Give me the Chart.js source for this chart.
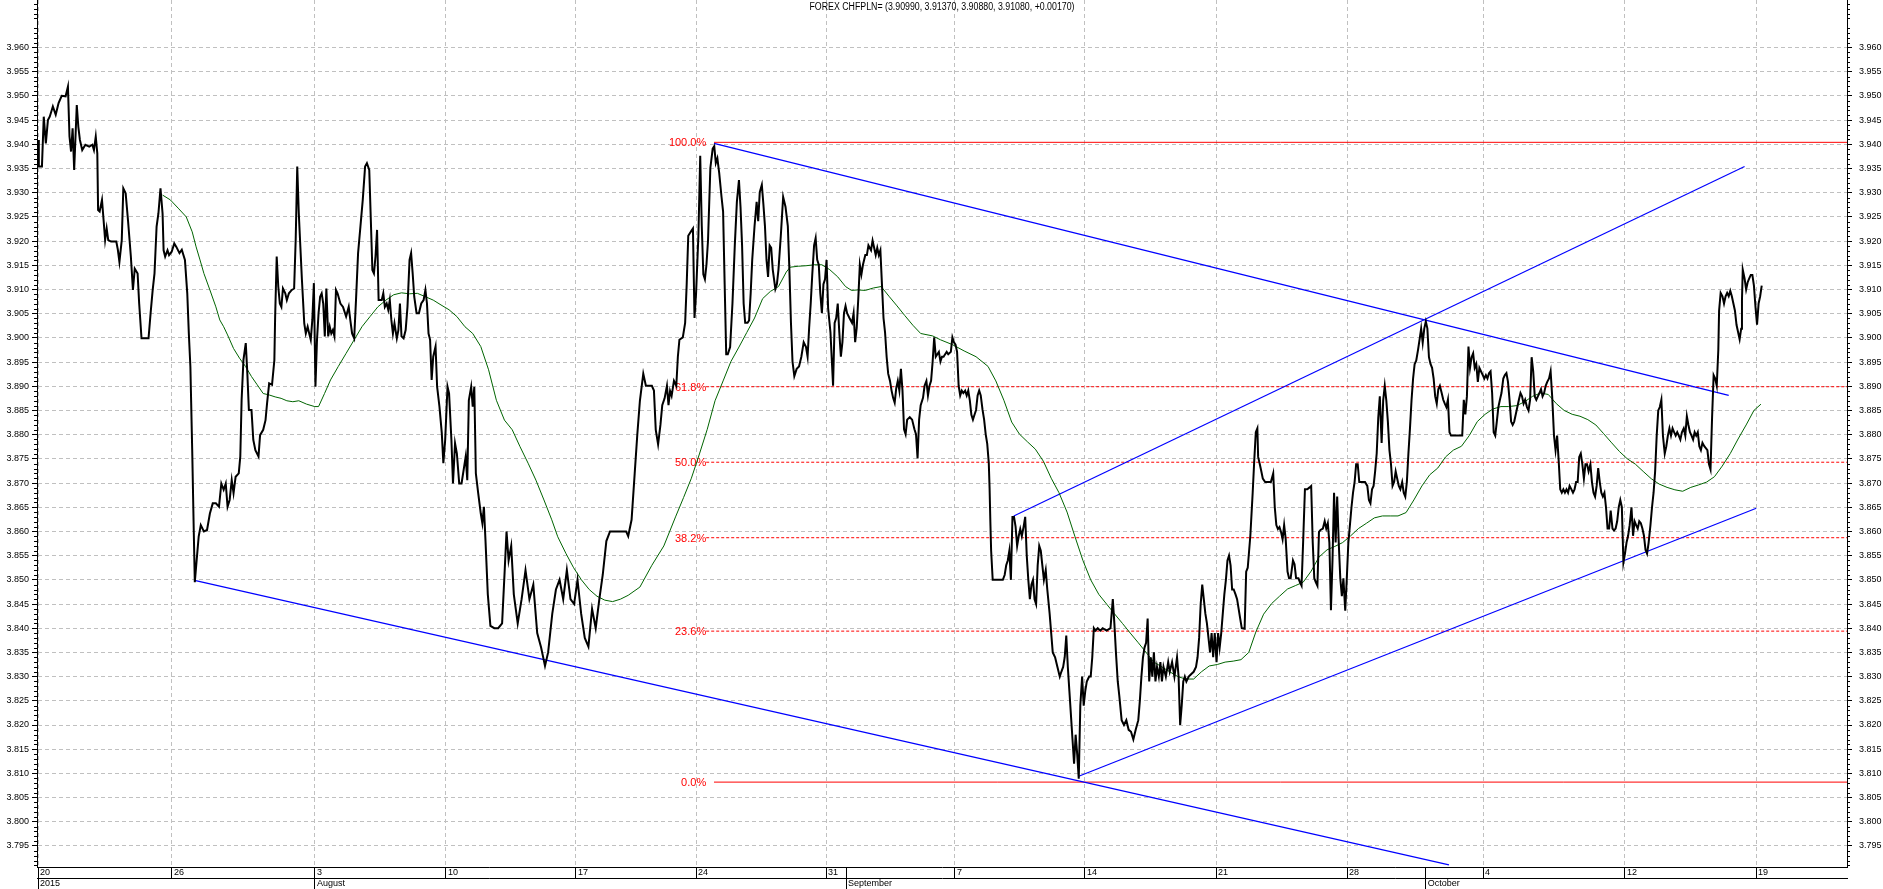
<!DOCTYPE html>
<html lang="en">
<head>
<meta charset="UTF-8">
<title>FOREX CHFPLN=</title>
<script src="https://cdn.jsdelivr.net/npm/chart.js"></script>
<style>
    html, body { margin: 0; padding: 0; background: #fff; overflow: hidden; }
    canvas { display: block; }
</style>
</head>
<body>
<canvas id="chart" width="1883" height="889"></canvas>
<script>
// x values are trading days counted from Mon 20 Jul 2015
const price = [
 [0.00,3.9409],[0.03,3.9354],[0.15,3.9354],[0.22,3.9457],[0.30,3.9402],[0.38,3.9450],[0.45,3.9457],[0.57,3.9478],
 [0.68,3.9461],[0.79,3.9485],[0.91,3.9500],[1.06,3.9499],[1.15,3.9519],[1.21,3.9416],[1.27,3.9385],[1.33,3.9433],
 [1.39,3.9347],[1.49,3.9481],[1.55,3.9436],[1.61,3.9409],[1.70,3.9388],[1.82,3.9399],[1.97,3.9395],[2.09,3.9399],
 [2.15,3.9388],[2.22,3.9416],[2.28,3.9381],[2.31,3.9264],[2.37,3.9261],[2.46,3.9285],[2.52,3.9244],[2.58,3.9202],
 [2.64,3.9226],[2.70,3.9202],[2.81,3.9199],[3.01,3.9199],[3.07,3.9182],[3.13,3.9157],[3.22,3.9202],[3.28,3.9309],
 [3.37,3.9299],[3.46,3.9243],[3.57,3.9168],[3.65,3.9099],[3.72,3.9143],[3.83,3.9133],[3.89,3.9071],[3.98,3.8999],
 [4.25,3.8999],[4.33,3.9051],[4.41,3.9099],[4.48,3.9133],[4.56,3.9230],[4.63,3.9257],[4.71,3.9309],[4.79,3.9257],
 [4.83,3.9181],[4.89,3.9168],[4.98,3.9181],[5.04,3.9171],[5.14,3.9178],[5.24,3.9195],[5.32,3.9188],[5.44,3.9175],
 [5.53,3.9182],[5.65,3.9161],[5.74,3.9092],[5.80,3.9009],[5.86,3.8940],[5.93,3.8768],[5.99,3.8600],[6.03,3.8495],
 [6.10,3.8540],[6.18,3.8590],[6.26,3.8613],[6.38,3.8600],[6.50,3.8603],[6.61,3.8637],[6.72,3.8658],[6.84,3.8658],
 [6.96,3.8651],[7.05,3.8699],[7.14,3.8686],[7.22,3.8699],[7.29,3.8651],[7.37,3.8665],[7.45,3.8706],[7.52,3.8679],
 [7.60,3.8713],[7.72,3.8720],[7.78,3.8755],[7.83,3.8871],[7.90,3.8954],[7.99,3.8989],[8.05,3.8927],[8.11,3.8851],
 [8.21,3.8851],[8.28,3.8789],[8.36,3.8768],[8.48,3.8755],[8.54,3.8799],[8.66,3.8810],[8.75,3.8830],[8.81,3.8865],
 [8.89,3.8906],[9.00,3.8903],[9.09,3.8954],[9.12,3.9044],[9.18,3.9168],[9.24,3.9106],[9.30,3.9071],[9.36,3.9064],
 [9.42,3.9102],[9.51,3.9092],[9.57,3.9078],[9.65,3.9092],[9.76,3.9099],[9.85,3.9102],[9.91,3.9202],[9.97,3.9354],
 [10.03,3.9257],[10.09,3.9188],[10.15,3.9120],[10.24,3.9030],[10.30,3.9009],[10.37,3.9023],[10.43,3.9009],[10.49,3.8996],
 [10.55,3.9037],[10.61,3.9113],[10.67,3.8899],[10.73,3.8996],[10.79,3.9051],[10.85,3.9085],[10.91,3.9092],[10.97,3.9071],
 [11.03,3.9003],[11.09,3.9102],[11.16,3.9003],[11.22,3.9023],[11.28,3.9009],[11.34,3.9016],[11.40,3.9003],[11.46,3.9099],
 [11.52,3.9092],[11.63,3.9071],[11.73,3.9064],[11.85,3.9044],[11.95,3.9064],[12.01,3.9037],[12.08,3.9009],[12.16,3.8999],
 [12.23,3.9078],[12.31,3.9175],[12.40,3.9230],[12.49,3.9285],[12.58,3.9354],[12.65,3.9361],[12.74,3.9347],[12.80,3.9244],
 [12.86,3.9140],[12.92,3.9133],[12.98,3.9168],[13.04,3.9223],[13.10,3.9078],[13.22,3.9078],[13.28,3.9092],[13.34,3.9064],
 [13.41,3.9071],[13.47,3.9058],[13.53,3.9078],[13.59,3.9037],[13.65,3.9009],[13.71,3.9030],[13.80,3.8999],[13.86,3.9016],
 [13.92,3.9071],[13.98,3.9003],[14.06,3.8999],[14.14,3.9016],[14.21,3.9064],[14.29,3.9161],[14.35,3.9175],[14.41,3.9133],
 [14.47,3.9085],[14.56,3.9051],[14.65,3.9051],[14.74,3.9071],[14.83,3.9078],[14.90,3.9099],[14.96,3.9071],[15.02,3.9009],
 [15.08,3.8996],[15.14,3.8913],[15.20,3.8961],[15.29,3.8982],[15.35,3.8899],[15.44,3.8858],[15.53,3.8803],[15.59,3.8741],
 [15.66,3.8789],[15.75,3.8899],[15.81,3.8885],[15.90,3.8789],[15.96,3.8699],[16.04,3.8782],[16.11,3.8761],[16.20,3.8699],
 [16.29,3.8699],[16.39,3.8734],[16.45,3.8755],[16.51,3.8706],[16.57,3.8871],[16.66,3.8899],[16.72,3.8858],[16.78,3.8899],
 [16.84,3.8720],[16.93,3.8679],[17.03,3.8637],[17.09,3.8617],[17.15,3.8651],[17.21,3.8582],[17.30,3.8470],[17.40,3.8405],
 [17.55,3.8400],[17.70,3.8400],[17.85,3.8410],[17.95,3.8520],[18.02,3.8600],[18.10,3.8540],[18.20,3.8570],[18.30,3.8470],
 [18.45,3.8410],[18.60,3.8460],[18.75,3.8520],[18.90,3.8460],[19.05,3.8490],[19.20,3.8390],[19.35,3.8360],[19.50,3.8322],
 [19.62,3.8350],[19.78,3.8430],[19.92,3.8480],[20.06,3.8500],[20.20,3.8460],[20.34,3.8520],[20.48,3.8460],[20.62,3.8450],
 [20.75,3.8500],[20.89,3.8430],[21.03,3.8380],[21.17,3.8362],[21.31,3.8440],[21.45,3.8400],[21.59,3.8460],[21.72,3.8510],
 [21.86,3.8580],[22.00,3.8600],[22.12,3.8600],[22.62,3.8600],[22.70,3.8590],[22.83,3.8624],[22.95,3.8720],[23.05,3.8800],
 [23.15,3.8870],[23.28,3.8926],[23.38,3.8901],[23.61,3.8901],[23.69,3.8891],[23.76,3.8810],[23.85,3.8780],[23.94,3.8820],
 [24.01,3.8861],[24.10,3.8875],[24.19,3.8901],[24.25,3.8861],[24.31,3.8890],[24.37,3.8880],[24.46,3.8911],[24.55,3.8901],
 [24.61,3.8961],[24.67,3.8996],[24.80,3.9001],[24.89,3.9031],[24.95,3.9111],[25.01,3.9211],[25.07,3.9216],[25.13,3.9221],
 [25.19,3.9226],[25.25,3.9041],[25.31,3.9091],[25.40,3.9211],[25.47,3.9376],[25.53,3.9231],[25.59,3.9131],[25.65,3.9121],
 [25.71,3.9151],[25.77,3.9201],[25.86,3.9351],[25.95,3.9391],[26.01,3.9396],[26.07,3.9361],[26.13,3.9371],[26.20,3.9341],
 [26.29,3.9291],[26.35,3.9261],[26.41,3.9111],[26.47,3.8966],[26.53,3.8966],[26.62,3.8981],[26.71,3.9071],[26.80,3.9191],
 [26.88,3.9281],[26.96,3.9326],[27.02,3.9271],[27.08,3.9191],[27.14,3.9071],[27.20,3.9031],[27.29,3.9031],[27.35,3.9036],
 [27.41,3.9091],[27.47,3.9161],[27.56,3.9231],[27.64,3.9281],[27.70,3.9241],[27.76,3.9301],[27.84,3.9316],[27.90,3.9276],
 [27.96,3.9231],[28.02,3.9161],[28.08,3.9126],[28.14,3.9191],[28.20,3.9186],[28.26,3.9141],[28.36,3.9101],[28.42,3.9111],
 [28.48,3.9141],[28.57,3.9211],[28.66,3.9291],[28.75,3.9271],[28.84,3.9231],[28.90,3.9141],[28.96,3.9031],[29.02,3.8951],
 [29.09,3.8921],[29.18,3.8936],[29.27,3.8941],[29.36,3.8961],[29.45,3.8991],[29.54,3.8981],[29.60,3.8961],[29.66,3.9021],
 [29.72,3.9071],[29.78,3.9131],[29.85,3.9191],[29.91,3.9206],[29.97,3.9161],[30.03,3.9151],[30.09,3.9091],[30.15,3.9051],
 [30.21,3.9111],[30.27,3.9121],[30.33,3.9161],[30.39,3.9061],[30.48,3.9011],[30.58,3.8901],[30.64,3.9031],[30.70,3.9041],
 [30.76,3.9071],[30.82,3.9011],[30.88,3.8961],[30.94,3.8991],[31.00,3.9051],[31.06,3.9066],[31.12,3.9051],[31.21,3.9041],
 [31.31,3.9031],[31.37,3.9051],[31.43,3.8991],[31.49,3.9021],[31.55,3.9081],[31.61,3.9151],[31.67,3.9131],[31.73,3.9151],
 [31.82,3.9171],[31.88,3.9171],[31.94,3.9191],[32.04,3.9181],[32.10,3.9201],[32.16,3.9186],[32.22,3.9171],[32.28,3.9186],
 [32.34,3.9171],[32.40,3.9181],[32.46,3.9111],[32.52,3.9041],[32.58,3.9011],[32.64,3.8961],[32.70,3.8926],[32.77,3.8911],
 [32.83,3.8891],[32.89,3.8876],[32.95,3.8866],[33.01,3.8896],[33.07,3.8911],[33.13,3.8891],[33.19,3.8936],[33.25,3.8891],
 [33.31,3.8811],[33.37,3.8801],[33.43,3.8831],[33.53,3.8836],[33.62,3.8831],[33.71,3.8811],[33.77,3.8801],[33.83,3.8751],
 [33.89,3.8831],[33.95,3.8861],[34.04,3.8876],[34.10,3.8901],[34.17,3.8911],[34.23,3.8881],[34.29,3.8901],[34.35,3.8911],
 [34.41,3.8951],[34.47,3.9001],[34.53,3.8961],[34.59,3.8966],[34.65,3.8971],[34.71,3.8951],[34.77,3.8961],[34.83,3.8961],
 [34.89,3.8966],[34.95,3.8971],[35.01,3.8966],[35.11,3.8971],[35.17,3.9001],[35.23,3.8991],[35.29,3.8986],[35.35,3.8971],
 [35.41,3.8901],[35.47,3.8881],[35.53,3.8891],[35.59,3.8886],[35.66,3.8891],[35.72,3.8881],[35.78,3.8891],[35.84,3.8871],
 [35.90,3.8841],[35.96,3.8831],[36.02,3.8841],[36.08,3.8851],[36.14,3.8881],[36.20,3.8891],[36.26,3.8881],[36.33,3.8851],
 [36.39,3.8831],[36.45,3.8801],[36.51,3.8781],[36.57,3.8741],[36.60,3.8690],[36.63,3.8620],[36.66,3.8560],[36.72,3.8500],
 [36.78,3.8500],[36.90,3.8500],[37.02,3.8500],[37.11,3.8500],[37.18,3.8510],[37.24,3.8530],[37.30,3.8540],[37.36,3.8560],
 [37.42,3.8500],[37.48,3.8630],[37.54,3.8630],[37.60,3.8610],[37.66,3.8570],[37.72,3.8590],[37.78,3.8605],[37.84,3.8590],
 [37.91,3.8610],[37.97,3.8630],[38.03,3.8550],[38.09,3.8500],[38.15,3.8460],[38.21,3.8490],[38.27,3.8500],[38.33,3.8460],
 [38.39,3.8450],[38.45,3.8530],[38.51,3.8570],[38.57,3.8560],[38.63,3.8530],[38.69,3.8500],[38.76,3.8520],[38.82,3.8480],
 [38.91,3.8430],[38.97,3.8390],[39.03,3.8350],[39.12,3.8340],[39.21,3.8320],[39.30,3.8300],[39.36,3.8310],[39.43,3.8320],
 [39.49,3.8340],[39.55,3.8385],[39.61,3.8320],[39.67,3.8270],[39.73,3.8220],[39.79,3.8170],[39.85,3.8120],[39.91,3.8180],
 [39.97,3.8140],[40.03,3.8089],[40.09,3.8240],[40.16,3.8300],[40.22,3.8240],[40.28,3.8270],[40.34,3.8290],[40.43,3.8300],
 [40.49,3.8300],[40.55,3.8340],[40.61,3.8400],[40.67,3.8395],[40.76,3.8400],[40.86,3.8395],[40.95,3.8400],[41.10,3.8395],
 [41.25,3.8400],[41.34,3.8460],[41.40,3.8410],[41.46,3.8350],[41.53,3.8290],[41.59,3.8260],[41.68,3.8210],[41.77,3.8200],
 [41.86,3.8210],[41.95,3.8190],[42.04,3.8186],[42.13,3.8170],[42.22,3.8190],[42.32,3.8210],[42.38,3.8250],[42.44,3.8300],
 [42.50,3.8340],[42.56,3.8360],[42.62,3.8370],[42.68,3.8420],[42.74,3.8290],[42.80,3.8340],[42.86,3.8300],[42.92,3.8350],
 [42.98,3.8290],[43.04,3.8320],[43.11,3.8300],[43.17,3.8330],[43.23,3.8290],[43.29,3.8320],[43.38,3.8300],[43.47,3.8330],
 [43.53,3.8310],[43.62,3.8330],[43.71,3.8300],[43.81,3.8340],[43.87,3.8300],[43.93,3.8200],[43.99,3.8240],[44.05,3.8290],
 [44.11,3.8300],[44.17,3.8290],[44.26,3.8300],[44.35,3.8305],[44.45,3.8310],[44.54,3.8320],[44.60,3.8340],[44.66,3.8380],
 [44.72,3.8450],[44.78,3.8490],[44.84,3.8460],[44.90,3.8430],[44.96,3.8410],[45.02,3.8380],[45.08,3.8350],[45.14,3.8390],
 [45.20,3.8340],[45.26,3.8390],[45.33,3.8330],[45.39,3.8390],[45.45,3.8360],[45.51,3.8390],[45.57,3.8430],[45.63,3.8470],
 [45.69,3.8500],[45.75,3.8540],[45.81,3.8550],[45.87,3.8530],[45.93,3.8480],[45.99,3.8480],[46.06,3.8470],[46.12,3.8460],
 [46.18,3.8440],[46.24,3.8420],[46.30,3.8400],[46.41,3.8399],[46.47,3.8517],[46.53,3.8525],[46.63,3.8591],[46.72,3.8680],
 [46.78,3.8746],[46.84,3.8805],[46.90,3.8813],[46.93,3.8754],[46.99,3.8740],[47.05,3.8725],[47.11,3.8709],[47.20,3.8702],
 [47.30,3.8702],[47.42,3.8702],[47.51,3.8720],[47.57,3.8650],[47.63,3.8613],[47.69,3.8605],[47.75,3.8609],[47.81,3.8599],
 [47.87,3.8584],[47.93,3.8613],[47.99,3.8584],[48.06,3.8517],[48.12,3.8503],[48.18,3.8503],[48.27,3.8540],[48.33,3.8532],
 [48.39,3.8503],[48.48,3.8503],[48.54,3.8495],[48.60,3.8488],[48.66,3.8577],[48.73,3.8687],[48.82,3.8687],[48.91,3.8691],
 [48.97,3.8694],[49.03,3.8577],[49.09,3.8503],[49.15,3.8495],[49.21,3.8488],[49.27,3.8599],[49.33,3.8603],[49.42,3.8606],
 [49.49,3.8621],[49.55,3.8606],[49.61,3.8617],[49.67,3.8577],[49.73,3.8437],[49.79,3.8540],[49.85,3.8680],[49.91,3.8577],
 [49.97,3.8672],[50.03,3.8577],[50.09,3.8503],[50.15,3.8466],[50.21,3.8503],[50.28,3.8436],[50.34,3.8503],[50.40,3.8577],
 [50.46,3.8613],[50.52,3.8650],[50.58,3.8680],[50.64,3.8702],[50.70,3.8739],[50.76,3.8739],[50.82,3.8702],[50.91,3.8702],
 [51.04,3.8702],[51.13,3.8694],[51.19,3.8665],[51.25,3.8658],[51.31,3.8687],[51.37,3.8694],[51.43,3.8724],[51.49,3.8761],
 [51.55,3.8835],[51.61,3.8879],[51.68,3.8783],[51.74,3.8871],[51.80,3.8901],[51.86,3.8871],[51.92,3.8827],[51.98,3.8768],
 [52.04,3.8739],[52.10,3.8694],[52.16,3.8702],[52.22,3.8724],[52.28,3.8709],[52.34,3.8694],[52.40,3.8687],[52.47,3.8702],
 [52.53,3.8680],[52.59,3.8672],[52.65,3.8702],[52.71,3.8761],[52.77,3.8813],[52.83,3.8871],[52.89,3.8916],[52.95,3.8946],
 [53.01,3.8953],[53.08,3.8975],[53.14,3.8997],[53.20,3.9019],[53.26,3.8990],[53.32,3.9019],[53.38,3.9034],[53.44,3.9019],
 [53.50,3.8960],[53.56,3.8946],[53.62,3.8938],[53.68,3.8916],[53.74,3.8879],[53.80,3.8864],[53.86,3.8894],[53.92,3.8901],
 [53.99,3.8886],[54.05,3.8872],[54.11,3.8864],[54.17,3.8857],[54.23,3.8872],[54.29,3.8805],[54.35,3.8798],[54.44,3.8798],
 [54.57,3.8798],[54.69,3.8798],[54.78,3.8798],[54.84,3.8872],[54.90,3.8842],[54.96,3.8879],[55.02,3.8982],[55.08,3.8938],
 [55.14,3.8960],[55.20,3.8968],[55.26,3.8938],[55.32,3.8946],[55.38,3.8909],[55.44,3.8938],[55.50,3.8931],[55.57,3.8923],
 [55.63,3.8916],[55.69,3.8923],[55.75,3.8916],[55.81,3.8927],[55.87,3.8931],[55.93,3.8886],[55.99,3.8805],[56.05,3.8798],
 [56.11,3.8827],[56.17,3.8857],[56.23,3.8872],[56.29,3.8886],[56.36,3.8916],[56.42,3.8923],[56.48,3.8927],[56.54,3.8909],
 [56.60,3.8872],[56.66,3.8827],[56.72,3.8820],[56.78,3.8827],[56.84,3.8842],[56.90,3.8857],[56.96,3.8872],[57.02,3.8886],
 [57.08,3.8879],[57.14,3.8864],[57.20,3.8872],[57.27,3.8857],[57.33,3.8850],[57.39,3.8872],[57.45,3.8960],[57.51,3.8931],
 [57.57,3.8879],[57.63,3.8872],[57.69,3.8879],[57.75,3.8886],[57.81,3.8894],[57.87,3.8879],[57.93,3.8886],[57.99,3.8901],
 [58.05,3.8909],[58.12,3.8916],[58.18,3.8931],[58.24,3.8879],[58.31,3.8798],[58.37,3.8768],[58.43,3.8798],[58.49,3.8746],
 [58.55,3.8687],[58.61,3.8680],[58.67,3.8687],[58.73,3.8680],[58.79,3.8687],[58.85,3.8680],[58.91,3.8694],[58.98,3.8687],
 [59.04,3.8680],[59.10,3.8687],[59.16,3.8702],[59.22,3.8702],[59.28,3.8754],[59.34,3.8761],[59.40,3.8739],[59.46,3.8709],
 [59.52,3.8739],[59.58,3.8739],[59.64,3.8724],[59.71,3.8739],[59.77,3.8702],[59.83,3.8680],[59.89,3.8672],[59.95,3.8694],
 [60.01,3.8731],[60.07,3.8702],[60.13,3.8680],[60.19,3.8672],[60.25,3.8680],[60.31,3.8650],[60.37,3.8606],[60.43,3.8606],
 [60.49,3.8643],[60.56,3.8606],[60.62,3.8602],[60.68,3.8606],[60.74,3.8621],[60.80,3.8650],[60.86,3.8665],[60.92,3.8650],
 [60.98,3.8536],[61.04,3.8554],[61.10,3.8577],[61.16,3.8591],[61.22,3.8613],[61.29,3.8650],[61.35,3.8591],[61.41,3.8621],
 [61.47,3.8613],[61.53,3.8606],[61.59,3.8621],[61.65,3.8617],[61.71,3.8606],[61.77,3.8591],[61.83,3.8562],[61.89,3.8554],
 [61.95,3.8577],[62.02,3.8613],[62.08,3.8650],[62.14,3.8680],[62.20,3.8724],[62.26,3.8798],[62.32,3.8850],[62.38,3.8857],
 [62.44,3.8872],[62.50,3.8798],[62.57,3.8761],[62.63,3.8776],[62.69,3.8798],[62.75,3.8813],[62.81,3.8798],[62.87,3.8813],
 [62.93,3.8805],[62.99,3.8798],[63.05,3.8805],[63.11,3.8798],[63.17,3.8790],[63.23,3.8805],[63.30,3.8813],[63.36,3.8798],
 [63.42,3.8838],[63.48,3.8820],[63.54,3.8805],[63.60,3.8798],[63.66,3.8790],[63.72,3.8805],[63.78,3.8798],[63.84,3.8805],
 [63.90,3.8776],[63.96,3.8768],[64.02,3.8783],[64.09,3.8776],[64.15,3.8772],[64.21,3.8768],[64.27,3.8739],[64.33,3.8728],
 [64.39,3.8835],[64.45,3.8923],[64.51,3.8916],[64.57,3.8901],[64.63,3.8975],[64.66,3.9056],[64.72,3.9093],[64.79,3.9086],
 [64.85,3.9071],[64.91,3.9086],[64.97,3.9093],[65.03,3.9086],[65.09,3.9097],[65.15,3.9086],[65.21,3.9071],[65.27,3.9056],
 [65.33,3.9027],[65.39,3.9012],[65.45,3.8997],[65.51,3.9019],[65.54,3.9078],[65.57,3.9141],[65.64,3.9123],[65.70,3.9100],
 [65.76,3.9115],[65.82,3.9123],[65.88,3.9130],[65.94,3.9130],[66.00,3.9108],[66.06,3.9064],[66.12,3.9027],[66.18,3.9071],
 [66.24,3.9086],[66.30,3.9108]
];

// green moving average
const movingAvg = [
 [4.79,3.9295],[5.09,3.9285],[5.39,3.9268],[5.70,3.9250],[5.93,3.9219],[6.08,3.9188],[6.23,3.9161],[6.38,3.9133],
 [6.61,3.9099],[6.84,3.9064],[6.99,3.9037],[7.14,3.9023],[7.29,3.9006],[7.52,3.8978],[7.75,3.8958],[7.98,3.8941],
 [8.21,3.8920],[8.43,3.8903],[8.66,3.8885],[8.89,3.8882],[9.12,3.8878],[9.35,3.8875],[9.57,3.8870],[9.80,3.8868],
 [10.03,3.8870],[10.33,3.8863],[10.64,3.8858],[10.79,3.8858],[11.02,3.8885],[11.25,3.8913],[11.55,3.8941],[11.85,3.8968],
 [12.16,3.8996],[12.46,3.9023],[12.77,3.9044],[13.07,3.9064],[13.38,3.9078],[13.68,3.9089],[13.98,3.9093],[14.29,3.9091],
 [14.59,3.9092],[14.90,3.9085],[15.20,3.9078],[15.50,3.9068],[15.81,3.9058],[16.11,3.9044],[16.42,3.9023],[16.72,3.9009],
 [17.03,3.8982],[17.33,3.8934],[17.63,3.8871],[17.94,3.8830],[18.24,3.8810],[18.54,3.8775],[18.85,3.8741],[19.15,3.8706],
 [19.46,3.8665],[19.76,3.8624],[19.99,3.8589],[20.30,3.8555],[20.60,3.8525],[20.90,3.8500],[21.20,3.8480],[21.50,3.8466],
 [21.80,3.8458],[22.10,3.8455],[22.40,3.8460],[22.70,3.8468],[23.15,3.8485],[23.61,3.8530],[24.07,3.8570],[24.52,3.8630],
 [24.83,3.8670],[25.13,3.8710],[25.44,3.8760],[25.74,3.8811],[26.04,3.8870],[26.35,3.8911],[26.65,3.8951],[26.96,3.8981],
 [27.26,3.9011],[27.56,3.9041],[27.87,3.9081],[28.17,3.9096],[28.48,3.9106],[28.78,3.9136],[28.93,3.9146],[29.24,3.9148],
 [29.54,3.9149],[29.85,3.9151],[30.15,3.9151],[30.45,3.9141],[30.76,3.9126],[31.06,3.9106],[31.29,3.9098],[31.52,3.9099],
 [31.82,3.9098],[32.13,3.9103],[32.43,3.9106],[32.73,3.9086],[33.04,3.9066],[33.34,3.9046],[33.65,3.9026],[33.95,3.9009],
 [34.41,3.9004],[34.71,3.8996],[35.17,3.8986],[35.62,3.8973],[36.08,3.8961],[36.54,3.8941],[36.84,3.8911],[37.15,3.8871],
 [37.45,3.8826],[37.75,3.8801],[38.06,3.8785],[38.36,3.8770],[38.67,3.8745],[38.97,3.8710],[39.27,3.8680],[39.58,3.8640],
 [39.88,3.8590],[40.19,3.8540],[40.49,3.8500],[40.80,3.8470],[41.10,3.8450],[41.40,3.8430],[41.71,3.8410],[42.01,3.8390],
 [42.32,3.8370],[42.62,3.8350],[42.92,3.8330],[43.23,3.8320],[43.53,3.8310],[43.84,3.8300],[44.14,3.8295],[44.45,3.8295],
 [44.75,3.8310],[45.05,3.8322],[45.36,3.8325],[45.66,3.8330],[45.97,3.8332],[46.27,3.8335],[46.57,3.8350],[46.84,3.8392],
 [47.14,3.8429],[47.45,3.8451],[47.75,3.8466],[48.06,3.8481],[48.36,3.8488],[48.66,3.8495],[48.97,3.8518],[49.27,3.8547],
 [49.58,3.8562],[49.88,3.8569],[50.18,3.8577],[50.49,3.8591],[50.79,3.8606],[51.10,3.8617],[51.40,3.8628],[51.71,3.8632],
 [52.01,3.8632],[52.31,3.8632],[52.62,3.8639],[52.92,3.8665],[53.23,3.8694],[53.53,3.8717],[53.84,3.8731],[54.14,3.8754],
 [54.44,3.8768],[54.75,3.8776],[55.05,3.8798],[55.36,3.8827],[55.66,3.8842],[55.96,3.8853],[56.27,3.8858],[56.57,3.8858],
 [56.88,3.8860],[57.18,3.8868],[57.48,3.8879],[57.79,3.8886],[58.09,3.8883],[58.40,3.8864],[58.70,3.8850],[59.01,3.8842],
 [59.31,3.8838],[59.61,3.8831],[59.92,3.8820],[60.22,3.8802],[60.53,3.8783],[60.83,3.8765],[61.13,3.8750],[61.44,3.8739],
 [61.74,3.8724],[62.05,3.8709],[62.35,3.8698],[62.66,3.8691],[62.96,3.8686],[63.26,3.8683],[63.57,3.8691],[63.87,3.8696],
 [64.18,3.8702],[64.48,3.8713],[64.78,3.8735],[65.09,3.8761],[65.39,3.8791],[65.70,3.8820],[66.00,3.8850],[66.27,3.8863]
];

// blue trend lines, two end points each
const trendLines = [
    [[6.02, 3.8499], [54.27, 3.7911]],
    [[26.00, 3.9402], [65.03, 3.8881]],
    [[37.53, 3.8632], [65.64, 3.9354]],
    [[40.03, 3.8094], [66.09, 3.8648]]
];

// fibonacci retracement between the high and the low
const fibHigh = 3.9404;
const fibLow = 3.8082;
const fibRatios = [0, 0.236, 0.382, 0.5, 0.618, 1];
const fibLabels = ['0.0%', '23.6%', '38.2%', '50.0%', '61.8%', '100.0%'];
const fibStart = 25.7;

const weekPos = [0, 5.15, 10.65, 15.69, 20.69, 25.31, 30.31, 35.27, 40.27, 45.31, 50.35, 55.58, 61.04, 66.08];
const weekLabels = ['20', '26', '3', '10', '17', '24', '31', '7', '14', '21', '28', '4', '12', '19'];
const monthPos = [0, 10.65, 31.08, 53.38];
const monthLabels = ['2015', 'August', 'September', 'October'];
const yTicks = [3.795, 3.800, 3.805, 3.810, 3.815, 3.820, 3.825, 3.830, 3.835, 3.840, 3.845, 3.850,
                3.855, 3.860, 3.865, 3.870, 3.875, 3.880, 3.885, 3.890, 3.895, 3.900, 3.905, 3.910,
                3.915, 3.920, 3.925, 3.930, 3.935, 3.940, 3.945, 3.950, 3.955, 3.960];
const titleText = 'FOREX CHFPLN= (3.90990, 3.91370, 3.90880, 3.91080, +0.00170)';

const xMin = -0.04, xMax = 69.58;
const yMin = 3.79066, yMax = 3.96981;

const tickFont = { family: '"Liberation Sans", Arial, sans-serif', size: 9 };
const toXY = arr => arr.map(p => ({ x: p[0], y: p[1] }));
const fibValue = r => fibLow + r * (fibHigh - fibLow);

const xTickVals = weekPos.concat(monthPos.filter(m => !weekPos.includes(m))).sort((a, b) => a - b);

const datasets = [
    { data: toXY(price), borderColor: '#000000', borderWidth: 2 },
    { data: toXY(movingAvg), borderColor: '#006400', borderWidth: 1 }
];
trendLines.forEach(t => datasets.push({ data: toXY(t), borderColor: '#0000ff', borderWidth: 1.2 }));
fibRatios.forEach(r => {
    const solid = (r === 0 || r === 1);
    datasets.push({
        data: [{ x: solid ? 26.0 : fibStart, y: fibValue(r) }, { x: xMax, y: fibValue(r) }],
        borderColor: '#ff0000', borderWidth: 1, borderDash: solid ? [] : [3, 2]
    });
});

// small 0.001 ticks on both price axes
const minorTicks = {
    id: 'minorTicks',
    afterDraw(chart) {
        const { ctx } = chart;
        const yl = chart.scales.y, yr = chart.scales.y2;
        ctx.save();
        ctx.strokeStyle = '#000';
        ctx.lineWidth = 1;
        ctx.beginPath();
        for (let k = Math.ceil(yMin * 1000); k <= Math.floor(yMax * 1000); k++) {
            if (k % 5 === 0) continue;
            const py = Math.round(yl.getPixelForValue(k / 1000)) + 0.5;
            ctx.moveTo(yl.right - 3, py); ctx.lineTo(yl.right, py);
            ctx.moveTo(yr.left, py); ctx.lineTo(yr.left + 3, py);
        }
        ctx.stroke();
        ctx.restore();
    }
};

// fib labels under the price line, title on top
const textLayer = {
    id: 'textLayer',
    beforeDatasetsDraw(chart) {
        const { ctx } = chart;
        const x = chart.scales.x, y = chart.scales.y;
        ctx.save();
        ctx.fillStyle = '#ff0000';
        ctx.font = '11px "Liberation Sans", Arial, sans-serif';
        ctx.textAlign = 'right';
        ctx.textBaseline = 'middle';
        const lx = x.getPixelForValue(fibStart);
        fibRatios.forEach((r, i) => ctx.fillText(fibLabels[i], lx, y.getPixelForValue(fibValue(r)) + 1));
        ctx.restore();
    },
    afterDraw(chart) {
        const { ctx, chartArea } = chart;
        ctx.save();
        ctx.fillStyle = '#000';
        ctx.font = '10px "Liberation Sans Narrow", "Liberation Sans", Arial, sans-serif';
        const w = ctx.measureText(titleText).width;
        ctx.translate((chartArea.left + chartArea.right) / 2, 7);
        ctx.scale(Math.min(1, 265 / w), 1);
        ctx.textAlign = 'center';
        ctx.textBaseline = 'middle';
        ctx.fillText(titleText, 0, 0);
        ctx.restore();
    }
};

new Chart(document.getElementById('chart'), {
    type: 'line',
    data: { datasets },
    options: {
        responsive: false,
        animation: false,
        devicePixelRatio: 1,
        events: [],
        layout: { padding: 0 },
        parsing: true,
        elements: { point: { radius: 0 }, line: { tension: 0, fill: false } },
        plugins: { legend: { display: false }, tooltip: { enabled: false }, title: { display: false } },
        scales: {
            x: {
                type: 'linear', position: 'bottom', weight: 1, min: xMin, max: xMax,
                afterBuildTicks: s => { s.ticks = xTickVals.map(v => ({ value: v })); },
                afterFit: s => { s.height = 11; s.paddingLeft = 0; s.paddingRight = 0; },
                grid: {
                    color: c => (c.tick && monthPos.includes(c.tick.value) && !weekPos.includes(c.tick.value)) ? 'rgba(0,0,0,0)' : '#c0c0c0',
                    tickColor: '#000', tickLength: 11, tickBorderDash: [100, 0], lineWidth: 1
                },
                border: { display: true, color: '#000', width: 1, dash: [4, 3] },
                ticks: {
                    autoSkip: false, maxRotation: 0, minRotation: 0, align: 'start', labelOffset: 2,
                    padding: -10.4, color: '#000', font: tickFont,
                    callback: v => { const i = weekPos.indexOf(v); return i >= 0 ? weekLabels[i] : ''; }
                }
            },
            x2: {
                type: 'linear', position: 'bottom', weight: 2, min: xMin, max: xMax,
                afterBuildTicks: s => { s.ticks = monthPos.map(v => ({ value: v })); },
                afterFit: s => { s.height = 11; s.paddingLeft = 0; s.paddingRight = 0; },
                grid: { drawOnChartArea: false, tickColor: '#000', tickLength: 11, tickBorderDash: [100, 0] },
                border: { display: true, color: '#000', width: 1 },
                ticks: {
                    autoSkip: false, maxRotation: 0, minRotation: 0, align: 'start', labelOffset: 2,
                    padding: -10.4, color: '#000', font: tickFont,
                    callback: v => { const i = monthPos.indexOf(v); return i >= 0 ? monthLabels[i] : ''; }
                }
            },
            y: {
                position: 'left', min: yMin, max: yMax,
                afterBuildTicks: s => { s.ticks = yTicks.map(v => ({ value: v })); },
                afterFit: s => { s.width = 37; s.paddingTop = 0; s.paddingBottom = 0; },
                grid: { color: '#c0c0c0', tickColor: '#000', tickLength: 5, tickBorderDash: [100, 0], lineWidth: 1 },
                border: { display: true, color: '#000', width: 1, dash: [4, 3] },
                ticks: { padding: 3, color: '#000', font: tickFont, callback: v => v.toFixed(3) }
            },
            y2: {
                position: 'right', min: yMin, max: yMax,
                afterBuildTicks: s => { s.ticks = yTicks.map(v => ({ value: v })); },
                afterFit: s => { s.width = 36; s.paddingTop = 0; s.paddingBottom = 0; },
                grid: { drawOnChartArea: false, tickColor: '#000', tickLength: 5, tickBorderDash: [100, 0] },
                border: { display: true, color: '#000', width: 1 },
                ticks: { padding: 7, color: '#000', font: tickFont, callback: v => v.toFixed(3) }
            }
        }
    },
    plugins: [minorTicks, textLayer]
});
</script>
</body>
</html>
